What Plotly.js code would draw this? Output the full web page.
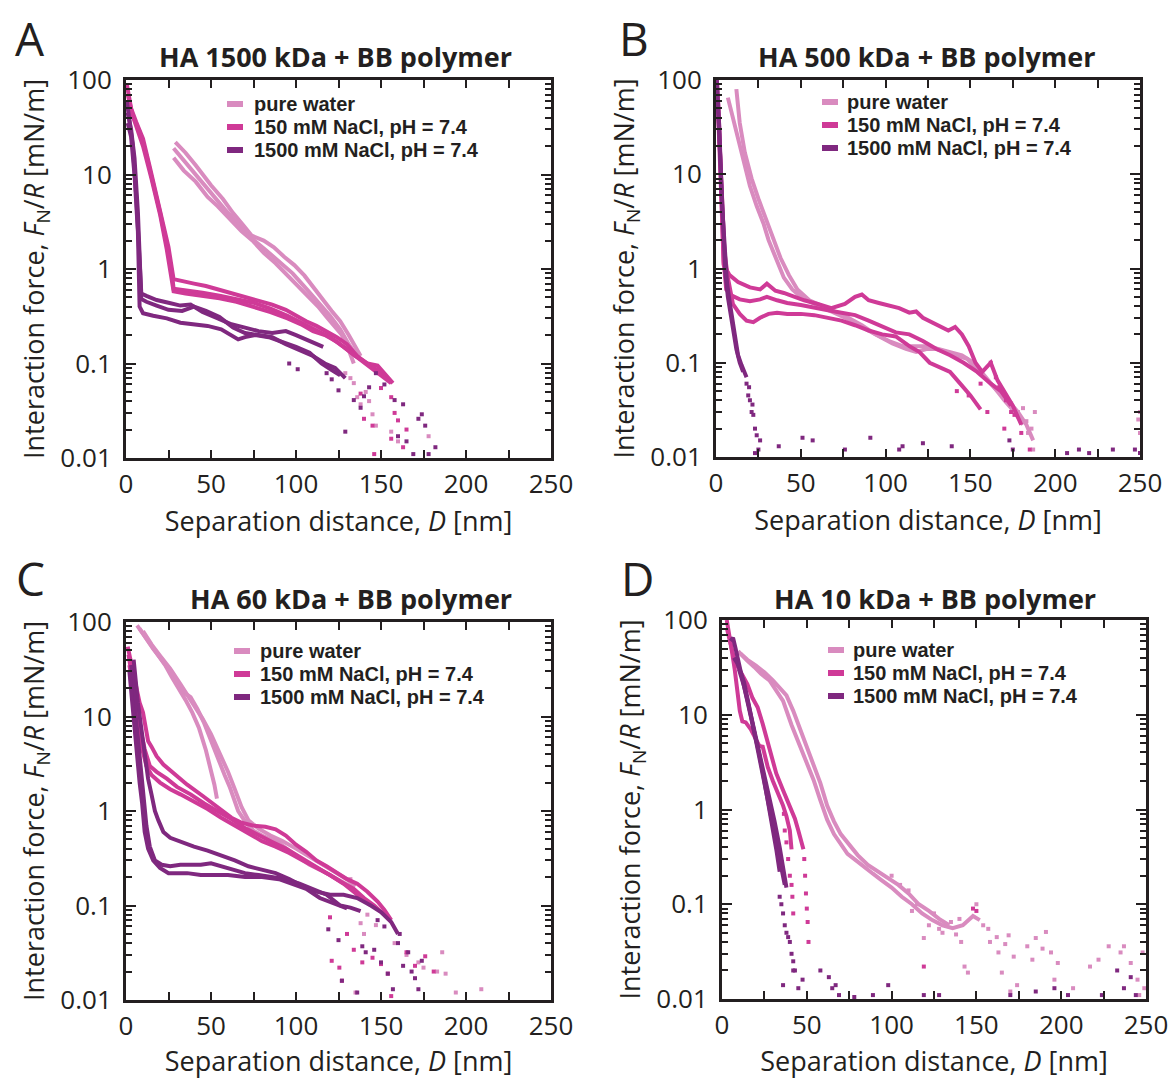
<!DOCTYPE html>
<html>
<head>
<meta charset="utf-8">
<script src="https://cdn.plot.ly/plotly-3.0.1.min.js"></script>
<style>html,body{margin:0;padding:0;background:#fff;}#chart{width:1171px;height:1079px;}</style>
</head>
<body>
<div id="chart"></div>
<script>
// ---------------- DATA (D in nm, F/R in mN/m) ----------------
const conditions = ["pure water", "150 mM NaCl, pH = 7.4", "1500 mM NaCl, pH = 7.4"];
const panelTitles = ["HA 1500 kDa + BB polymer", "HA 500 kDa + BB polymer", "HA 60 kDa + BB polymer", "HA 10 kDa + BB polymer"];
const panelLetters = ["A", "B", "C", "D"];
const xTickVals = [0, 50, 100, 150, 200, 250];
const yTickVals = [0.01, 0.1, 1, 10, 100];
const yTickText = ["0.01", "0.1", "1", "10", "100"];

// Panel A: HA 1500 kDa
const A_water_D = [
  [29, 35, 41, 50, 57, 63, 69, 74, 81, 87, 93, 99, 105, 110, 116, 121, 126, 131, 135, 138],
  [28, 35, 41, 50, 58, 66, 74, 82, 90, 98, 106, 113, 120, 126, 131, 136],
  [28, 34, 41, 48, 54, 61, 68, 75, 81, 88, 94, 101, 107, 113, 118, 123, 127, 131, 134]];
const A_water_F = [
  [22, 17, 12.5, 7.7, 5.5, 3.9, 2.9, 2.25, 2.0, 1.7, 1.35, 1.1, 0.85, 0.66, 0.47, 0.36, 0.28, 0.2, 0.15, 0.12],
  [19, 13.5, 10, 6.3, 4.3, 3.0, 2.1, 1.6, 1.2, 0.9, 0.62, 0.45, 0.32, 0.23, 0.16, 0.12],
  [15, 11, 8.4, 5.8, 4.6, 3.4, 2.5, 1.95, 1.48, 1.15, 0.89, 0.68, 0.51, 0.4, 0.31, 0.24, 0.2, 0.14, 0.10]];
const A_salt150_D = [
  [0.5, 3, 6, 10, 14, 18, 22, 25, 28, 33, 40, 47, 55, 62, 70, 78, 86, 94, 100, 106, 112, 118, 124, 130, 136, 142, 148, 153, 157],
  [1, 4, 8, 12, 16, 20, 24, 27, 28, 35, 45, 55, 65, 75, 85, 95, 105, 113, 120, 128, 135, 142, 148, 154],
  [1, 5, 10, 15, 20, 24, 28, 35, 45, 55, 65, 75, 85, 95, 103, 110, 117, 124, 130, 137, 143, 150, 156]];
const A_salt150_F = [
  [90, 50, 36, 24, 12, 6, 3, 1.7, 0.78, 0.74, 0.7, 0.66, 0.6, 0.55, 0.51, 0.46, 0.42, 0.37, 0.32, 0.28, 0.25, 0.22, 0.19, 0.16, 0.12, 0.1, 0.095, 0.075, 0.062],
  [70, 42, 28, 16, 8, 4, 1.8, 0.9, 0.62, 0.6, 0.56, 0.52, 0.48, 0.44, 0.38, 0.32, 0.26, 0.22, 0.19, 0.15, 0.12, 0.1, 0.085, 0.068],
  [60, 38, 20, 9, 3.8, 1.6, 0.58, 0.55, 0.52, 0.49, 0.45, 0.4, 0.35, 0.3, 0.26, 0.22, 0.2, 0.17, 0.14, 0.11, 0.093, 0.075, 0.062]];
const A_salt1500_D = [
  [0.5, 2, 4, 6, 8, 9, 12, 18, 25, 32, 38, 45, 54, 62, 70, 78, 86, 94, 100, 106, 112, 116],
  [1, 3, 5, 7, 9, 12, 18, 25, 33, 40, 47, 55, 63, 70, 78, 86, 94, 102, 110, 117, 123, 129],
  [1, 3, 5, 7, 8, 10, 16, 24, 32, 40, 48, 56, 62, 66, 70, 76, 84, 92, 100, 108, 115, 121, 126]];
const A_salt1500_F = [
  [60, 40, 20, 6, 1.5, 0.55, 0.52, 0.47, 0.44, 0.41, 0.42, 0.35, 0.3, 0.26, 0.24, 0.22, 0.21, 0.22, 0.2, 0.18, 0.16, 0.15],
  [45, 30, 15, 4, 0.48, 0.45, 0.41, 0.37, 0.36, 0.4, 0.36, 0.31, 0.24, 0.21, 0.2, 0.19, 0.16, 0.14, 0.12, 0.1, 0.09, 0.07],
  [35, 25, 10, 2.5, 0.4, 0.34, 0.32, 0.3, 0.27, 0.26, 0.25, 0.23, 0.2, 0.18, 0.19, 0.2, 0.19, 0.17, 0.15, 0.13, 0.1, 0.085, 0.075]];
const A_water_tailD = [129, 132, 134, 136, 138, 141, 145, 147, 156, 160, 178, 143];
const A_water_tailF = [0.079, 0.07, 0.062, 0.044, 0.037, 0.05, 0.029, 0.022, 0.019, 0.015, 0.017, 0.04];
const A_salt150_tailD = [138, 140, 145, 146, 156, 158, 160, 163, 156, 150, 165];
const A_salt150_tailF = [0.048, 0.026, 0.022, 0.011, 0.044, 0.03, 0.025, 0.013, 0.016, 0.055, 0.02];
const A_salt1500_tailD = [96, 101, 118, 121, 125, 129, 134, 138, 143, 147, 158, 160, 163, 165, 169, 172, 174, 176, 178, 182, 152, 140];
const A_salt1500_tailF = [0.10, 0.087, 0.079, 0.068, 0.052, 0.019, 0.041, 0.034, 0.056, 0.079, 0.041, 0.017, 0.037, 0.015, 0.011, 0.026, 0.029, 0.022, 0.011, 0.013, 0.06, 0.045];

// Panel B: HA 500 kDa
const B_water_D = [
  [7, 8, 10, 13, 17, 20, 24, 28, 31, 35, 40, 45, 50, 57, 64, 72, 80, 88, 96, 104, 112, 118, 124, 130, 136, 142, 148, 154, 160, 166, 172, 178, 183, 187],
  [12, 12.5, 14, 17, 21, 25, 29, 33, 38, 43, 48, 55, 62, 70, 78, 86, 94, 102, 110, 117, 124, 131, 138, 145, 152, 158, 164, 170, 176, 181]];
const B_water_F = [
  [65, 55, 40, 24, 12, 7.5, 4.6, 3.0, 2.0, 1.3, 0.8, 0.6, 0.5, 0.43, 0.38, 0.33, 0.28, 0.23, 0.19, 0.16, 0.14, 0.13, 0.14, 0.14, 0.13, 0.12, 0.11, 0.085, 0.065, 0.05, 0.04, 0.03, 0.022, 0.015],
  [80, 60, 35, 17, 9, 5.5, 3.5, 2.2, 1.3, 0.85, 0.6, 0.46, 0.4, 0.35, 0.3, 0.25, 0.2, 0.17, 0.15, 0.15, 0.15, 0.14, 0.13, 0.12, 0.1, 0.075, 0.055, 0.04, 0.03, 0.022]];
const B_salt150_D = [
  [0.5, 1.5, 3, 4.5, 8, 13, 20, 26, 30, 35, 40, 46, 52, 60, 68, 76, 82, 86, 90, 96, 102, 108, 114, 118, 122, 127, 132, 137, 141, 145, 149, 153, 157, 162, 166, 170, 175, 180],
  [1, 2.5, 4.5, 6, 9, 14, 20, 26, 30, 36, 42, 50, 58, 66, 74, 82, 90, 98, 106, 114, 122, 130, 138, 146, 154, 162, 168, 174],
  [1.5, 3, 5, 7, 10, 14, 18, 22, 26, 31, 36, 42, 50, 58, 66, 74, 82, 90, 98, 106, 114, 120, 126, 132, 138, 144, 150, 156]];
const B_salt150_F = [
  [100, 50, 8, 1.1, 0.85, 0.72, 0.63, 0.6, 0.69, 0.58, 0.55, 0.5, 0.46, 0.42, 0.38, 0.42, 0.5, 0.53, 0.46, 0.43, 0.4, 0.38, 0.34, 0.35, 0.3, 0.27, 0.24, 0.22, 0.24, 0.2, 0.15, 0.1, 0.08, 0.1, 0.065, 0.05, 0.035, 0.022],
  [60, 12, 1.2, 0.6, 0.52, 0.47, 0.45, 0.47, 0.5, 0.46, 0.43, 0.41, 0.38, 0.36, 0.34, 0.32, 0.28, 0.24, 0.21, 0.2, 0.17, 0.14, 0.12, 0.1, 0.08, 0.06, 0.05, 0.035],
  [40, 8, 1.5, 0.8, 0.42, 0.33, 0.28, 0.27, 0.3, 0.33, 0.34, 0.33, 0.33, 0.32, 0.3, 0.28, 0.25, 0.22, 0.2, 0.19, 0.15, 0.13, 0.1, 0.09, 0.08, 0.06, 0.045, 0.032]];
const B_salt1500_D = [
  [0.5, 2, 3.5, 5, 6.5, 8, 9.5, 11, 13, 15, 17, 18],
  [1, 2.5, 4, 5.5, 7, 8.5, 10, 12, 14, 16]];
const B_salt1500_F = [
  [100, 30, 5, 1.5, 0.7, 0.45, 0.3, 0.18, 0.12, 0.095, 0.08, 0.07],
  [60, 15, 3, 0.9, 0.5, 0.33, 0.22, 0.14, 0.1, 0.08]];
const B_water_tailD = [174, 178, 181, 183, 184, 186, 187, 188, 250, 250, 249];
const B_water_tailF = [0.037, 0.03, 0.033, 0.024, 0.018, 0.02, 0.012, 0.03, 0.018, 0.03, 0.025];
const B_salt150_tailD = [142, 149, 156, 162, 165, 167, 171, 174, 176, 180, 185, 160, 170];
const B_salt150_tailF = [0.05, 0.045, 0.06, 0.1, 0.07, 0.055, 0.04, 0.03, 0.028, 0.018, 0.012, 0.03, 0.02];
const B_salt1500_tailD = [18, 19, 20, 21, 22, 23, 24, 25, 26, 23, 37, 51, 57, 76, 91, 108, 110, 122, 139, 173, 175, 207, 214, 220, 234, 247, 250, 19.5, 21.5];
const B_salt1500_tailF = [0.06, 0.045, 0.04, 0.03, 0.028, 0.02, 0.017, 0.012, 0.015, 0.011, 0.013, 0.016, 0.015, 0.012, 0.016, 0.012, 0.013, 0.014, 0.013, 0.015, 0.012, 0.011, 0.012, 0.011, 0.012, 0.012, 0.011, 0.055, 0.036];

// Panel C: HA 60 kDa
const C_water_D = [
  [6.5, 10, 14, 18, 23, 27, 31, 35, 39, 43, 47, 50, 52, 53.5],
  [8, 12, 16, 20, 25, 30, 34, 38, 42, 46, 50, 54, 58, 61, 63, 66, 70, 75, 80, 85, 90, 96, 102, 108, 114, 120, 126, 132, 136],
  [10, 15, 20, 26, 32, 36, 40, 45, 50, 55, 60, 64, 68, 72, 78, 85, 92, 100, 108, 116, 124, 130, 135]];
const C_water_F = [
  [92, 75, 60, 47, 35, 26, 20, 15, 11, 7.5, 4.4, 2.8, 1.9, 1.35],
  [85, 65, 52, 42, 32, 22, 18, 16, 12, 8.5, 5.5, 3.8, 2.4, 1.8, 1.4, 1.0, 0.78, 0.62, 0.55, 0.5, 0.46, 0.38, 0.32, 0.27, 0.24, 0.21, 0.18, 0.16, 0.13],
  [80, 58, 44, 32, 22, 17, 13.5, 9.5, 6.5, 4.2, 2.6, 1.7, 1.1, 0.8, 0.65, 0.55, 0.48, 0.4, 0.33, 0.27, 0.22, 0.19, 0.16]];
const C_salt150_D = [
  [1, 2.5, 5, 8, 10, 11.5, 13, 15, 18, 22, 28, 36, 45, 55, 62, 68, 75, 82, 88, 94, 100, 106, 112, 118, 124, 130, 136, 142, 148, 152, 156],
  [1.5, 3, 5, 8, 11, 14, 18, 24, 30, 38, 46, 54, 62, 70, 78, 86, 94, 102, 110, 118, 126, 134, 140, 146, 152],
  [2, 4, 6, 9, 12, 15, 20, 26, 32, 40, 48, 56, 64, 72, 80, 88, 96, 104, 112, 120, 128, 136, 144]];
const C_salt150_F = [
  [55, 40, 24, 14, 11, 7.5, 5.5, 4.8, 3.8, 3.1, 2.5, 1.9, 1.45, 1.05, 0.85, 0.75, 0.7, 0.68, 0.64, 0.55, 0.44, 0.37, 0.3, 0.26, 0.22, 0.19, 0.17, 0.14, 0.11, 0.09, 0.07],
  [45, 30, 18, 8, 4.5, 3.0, 2.6, 2.2, 1.8, 1.5, 1.2, 1.0, 0.82, 0.66, 0.55, 0.47, 0.4, 0.33, 0.27, 0.22, 0.18, 0.15, 0.12, 0.1, 0.08],
  [35, 22, 10, 5, 3.0, 2.4, 2.0, 1.7, 1.5, 1.25, 1.05, 0.85, 0.7, 0.57, 0.48, 0.42, 0.36, 0.3, 0.25, 0.21, 0.17, 0.13, 0.1]];
const C_salt1500_D = [
  [4.5, 5.5, 7, 9, 11, 13, 15, 17, 19, 22, 26, 32, 40, 48, 56, 64, 72, 80, 88, 96, 104, 112, 120, 128, 136, 144, 150, 156, 160],
  [3, 4.5, 6, 7.5, 9, 10.5, 12, 14, 17, 21, 26, 32, 38, 44, 50, 56, 62, 70, 78, 86, 94, 102, 110, 118, 126, 132, 138],
  [2, 3.5, 5, 6.5, 8, 9.5, 11, 13, 16, 20, 25, 30, 36, 44, 52, 60, 70, 80, 90, 98, 106, 114, 122, 130]];
const C_salt1500_F = [
  [40, 25, 14, 7.5, 4.0, 2.2, 1.5, 1.0, 0.8, 0.6, 0.52, 0.47, 0.42, 0.38, 0.34, 0.3, 0.26, 0.24, 0.22, 0.19, 0.16, 0.14, 0.13, 0.13, 0.12, 0.1, 0.085, 0.067, 0.05],
  [35, 20, 9, 4.6, 2.2, 1.2, 0.7, 0.42, 0.3, 0.27, 0.26, 0.27, 0.27, 0.27, 0.28, 0.26, 0.24, 0.22, 0.21, 0.2, 0.19, 0.17, 0.15, 0.13, 0.1, 0.095, 0.087],
  [30, 15, 7, 3.5, 2.0, 1.2, 0.6, 0.4, 0.3, 0.25, 0.22, 0.22, 0.22, 0.21, 0.21, 0.21, 0.2, 0.2, 0.19, 0.17, 0.15, 0.12, 0.105, 0.093]];
const C_water_tailD = [132, 138, 140, 147, 152, 158, 165, 172, 175, 183, 186, 188, 194, 209, 135, 142];
const C_water_tailF = [0.19, 0.065, 0.05, 0.062, 0.085, 0.04, 0.03, 0.025, 0.022, 0.02, 0.032, 0.019, 0.012, 0.013, 0.012, 0.08];
const C_salt150_tailD = [121, 125.5, 127, 134, 139, 145, 150, 154, 156, 165, 170, 176, 181, 120, 130];
const C_salt150_tailF = [0.026, 0.022, 0.016, 0.034, 0.025, 0.028, 0.024, 0.019, 0.011, 0.032, 0.023, 0.029, 0.02, 0.075, 0.05];
const C_salt1500_tailD = [119, 125, 127, 136, 139, 141, 146, 150, 154, 157, 161, 166, 168, 170, 172, 174, 160, 148, 152, 163];
const C_salt1500_tailF = [0.056, 0.043, 0.016, 0.012, 0.037, 0.032, 0.034, 0.025, 0.019, 0.013, 0.05, 0.032, 0.02, 0.017, 0.013, 0.026, 0.04, 0.07, 0.06, 0.023];

// Panel D: HA 10 kDa
const D_water_D = [
  [9.5, 12, 15, 19, 23, 28, 32, 36, 41, 45, 49, 54, 58, 62, 66, 70, 74, 79, 84, 89, 94, 100, 106, 112, 118, 124, 130, 136, 142, 148, 152],
  [11, 15, 20, 25, 30, 34, 38, 42, 46, 50, 54, 58, 62, 66, 70, 75, 80, 86, 92, 98, 104, 110, 116, 122, 128, 134]];
const D_water_F = [
  [47, 42, 37, 32, 27, 23, 18, 14, 7.8, 5.2, 3.6, 2.05, 1.25, 0.78, 0.55, 0.43, 0.34, 0.29, 0.25, 0.21, 0.18, 0.15, 0.12, 0.1, 0.08, 0.068, 0.06, 0.056, 0.06, 0.075, 0.068],
  [44, 38, 33, 28, 23, 19, 16, 11, 7, 4.6, 3.0, 1.9, 1.1, 0.75, 0.55, 0.42, 0.33, 0.26, 0.22, 0.19, 0.16, 0.13, 0.1, 0.085, 0.07, 0.06]];
const D_salt150_D = [
  [2.8, 4.5, 6, 7.5, 9, 10.5, 12, 14, 17, 20, 22, 24, 27, 30, 33, 36, 38, 40, 41],
  [3, 5, 7, 9, 12, 15, 18, 21, 24, 28, 32, 36, 40, 43, 45, 47, 48]];
const D_salt150_F = [
  [100, 70, 45, 30, 18, 11, 8.5, 8.3, 7.0, 5.5, 4.7, 4.6, 2.8, 2.0, 1.5, 1.1, 0.85, 0.6, 0.38],
  [80, 55, 40, 33, 26, 21, 15, 12, 8, 4.2, 2.4, 1.6, 1.1, 0.8, 0.6, 0.45, 0.38]];
const D_salt1500_D = [
  [5, 6.5, 8, 10, 12, 14, 16, 18, 20, 22, 24, 26, 28, 30, 32, 34],
  [7, 9, 11, 13, 15, 17, 19, 21, 23, 25, 27, 29, 31, 33, 35, 37],
  [10, 13, 16, 19, 22, 25, 28, 31, 34, 36, 38]];
const D_salt1500_F = [
  [60, 65, 50, 35, 24, 17, 12, 8, 5.5, 3.8, 2.5, 1.6, 1.0, 0.6, 0.38, 0.22],
  [40, 35, 28, 22, 15, 10, 6.6, 4.5, 3.0, 2.0, 1.35, 0.9, 0.6, 0.4, 0.25, 0.16],
  [30, 20, 12, 7, 4, 2.3, 1.3, 0.75, 0.4, 0.25, 0.15]];
const D_water_tailD = [100, 105, 110, 115, 119, 125, 130, 135, 141, 143, 145, 150, 154, 157, 158, 162, 163, 165, 167, 169, 172, 174, 180, 183, 185, 189, 191, 194, 196, 198, 207, 217, 222, 228, 235, 237, 241, 245, 248, 249, 246, 140, 170, 112, 122, 128, 138];
const D_water_tailF = [0.2, 0.16, 0.14, 0.1, 0.044, 0.08, 0.05, 0.065, 0.04, 0.022, 0.019, 0.1, 0.06, 0.055, 0.04, 0.045, 0.031, 0.019, 0.038, 0.047, 0.028, 0.014, 0.036, 0.026, 0.044, 0.034, 0.051, 0.031, 0.016, 0.024, 0.013, 0.022, 0.026, 0.036, 0.031, 0.036, 0.024, 0.016, 0.031, 0.013, 0.011, 0.07, 0.012, 0.085, 0.06, 0.055, 0.048];
const D_salt150_tailD = [36.5, 37, 38, 39, 40, 41, 41.5, 42, 48.5, 49, 49.5, 50, 50.5, 51, 119, 150, 148];
const D_salt150_tailF = [0.9, 0.6, 0.45, 0.3, 0.2, 0.16, 0.12, 0.08, 0.3, 0.2, 0.13, 0.09, 0.065, 0.04, 0.022, 0.085, 0.09];
const D_salt1500_tailD = [34, 35, 36, 37, 38, 39, 40, 41, 42, 43, 36, 42, 45, 47.5, 58, 63, 67, 69, 78, 89, 98, 119, 128, 170, 185, 196, 204, 224, 233, 237, 241, 244, 65];
const D_salt1500_tailF = [0.12, 0.1, 0.08, 0.06, 0.05, 0.045, 0.04, 0.03, 0.025, 0.02, 0.014, 0.02, 0.013, 0.016, 0.02, 0.017, 0.014, 0.011, 0.0105, 0.011, 0.014, 0.011, 0.011, 0.011, 0.012, 0.013, 0.011, 0.011, 0.02, 0.013, 0.017, 0.011, 0.013];

// ---------------- STYLE / LAYOUT ----------------
const COLORS = ["#d98bbf", "#cf3a97", "#7f287f"];
const INK = "#231f20";
const FONT = "Open Sans";
const LEGEND_FONT = "Liberation Sans";
const W = 1171, H = 1079;
const fx = v => v / W, fy = v => 1 - v / H;

const panelData = [
  {runsD: [A_water_D, A_salt150_D, A_salt1500_D], runsF: [A_water_F, A_salt150_F, A_salt1500_F],
   tailD: [A_water_tailD, A_salt150_tailD, A_salt1500_tailD], tailF: [A_water_tailF, A_salt150_tailF, A_salt1500_tailF]},
  {runsD: [B_water_D, B_salt150_D, B_salt1500_D], runsF: [B_water_F, B_salt150_F, B_salt1500_F],
   tailD: [B_water_tailD, B_salt150_tailD, B_salt1500_tailD], tailF: [B_water_tailF, B_salt150_tailF, B_salt1500_tailF]},
  {runsD: [C_water_D, C_salt150_D, C_salt1500_D], runsF: [C_water_F, C_salt150_F, C_salt1500_F],
   tailD: [C_water_tailD, C_salt150_tailD, C_salt1500_tailD], tailF: [C_water_tailF, C_salt150_tailF, C_salt1500_tailF]},
  {runsD: [D_water_D, D_salt150_D, D_salt1500_D], runsF: [D_water_F, D_salt150_F, D_salt1500_F],
   tailD: [D_water_tailD, D_salt150_tailD, D_salt1500_tailD], tailF: [D_water_tailF, D_salt150_tailF, D_salt1500_tailF]}
];

// pixel geometry of each panel
const geom = [
  {x: [126, 551], y: [80, 458], titleX: 514, titleY: 57, letter: [30, 38], barX: 235, textX: 252, rows: [104, 127, 150]},
  {x: [716, 1140], y: [80, 457], titleX: 1098, titleY: 57, letter: [634, 38], barX: 830, textX: 845, rows: [102, 125, 148]},
  {x: [126, 551], y: [622, 1000], titleX: 514, titleY: 598, letter: [30, 578], barX: 242, textX: 258, rows: [651, 674, 697]},
  {x: [722, 1146], y: [620, 999], titleX: 1098, titleY: 598, letter: [637, 578], barX: 836, textX: 851, rows: [650, 673, 696]}
];

const traces = [];
const layout = {
  width: W, height: H, margin: {l: 0, r: 0, t: 0, b: 0},
  paper_bgcolor: "#fff", plot_bgcolor: "#fff", showlegend: false,
  font: {family: FONT, color: INK},
  annotations: [], shapes: []
};

const yMinor = [];
[0.01, 0.1, 1, 10].forEach(d => { for (let k = 2; k <= 9; k++) yMinor.push(+(d * k).toPrecision(3)); });

geom.forEach((g, p) => {
  const s = p === 0 ? "" : String(p + 1);
  const xa = "x" + s, ya = "y" + s;
  layout["xaxis" + s] = {
    domain: [fx(g.x[0]), fx(g.x[1])], anchor: ya, range: [0, 250],
    tickvals: xTickVals, ticks: "inside", ticklen: 8, tickwidth: 2, tickcolor: INK,
    minor: {tickvals: [25, 75, 125, 175, 225], ticks: "inside", ticklen: 8, tickwidth: 2, tickcolor: INK},
    showline: true, linewidth: 3, linecolor: INK, mirror: "ticks",
    showgrid: false, zeroline: false, automargin: false, ticklabelstandoff: 1,
    tickfont: {family: FONT, size: 26, color: INK},
    title: {text: "Separation distance, <i>D</i> [nm]", font: {family: FONT, size: 27, color: INK}, standoff: 12}
  };
  layout["yaxis" + s] = {
    domain: [fy(g.y[1]), fy(g.y[0])], anchor: xa, type: "log", range: [-2, 2],
    tickvals: yTickVals, ticktext: yTickText, ticks: "inside", ticklen: 10, tickwidth: 2, tickcolor: INK,
    minor: {tickvals: yMinor, ticks: "inside", ticklen: 6, tickwidth: 2, tickcolor: INK},
    showline: true, linewidth: 3, linecolor: INK, mirror: "ticks",
    showgrid: false, zeroline: false, automargin: false, ticklabelstandoff: 6,
    tickfont: {family: FONT, size: 26, color: INK},
    title: {text: "Interaction force, <i>F</i><sub>N</sub>/<i>R</i> [mN/m]", font: {family: FONT, size: 27, color: INK}, standoff: 8}
  };

  const pd = panelData[p];
  for (let c = 0; c < 3; c++) {
    pd.runsD[c].forEach((dArr, r) => {
      traces.push({
        type: "scatter", mode: "lines", x: dArr, y: pd.runsF[c][r], xaxis: xa, yaxis: ya,
        name: conditions[c], showlegend: false,
        line: {color: COLORS[c], width: 4}, hoverinfo: "x+y+name"
      });
    });
    traces.push({
      type: "scatter", mode: "markers", x: pd.tailD[c], y: pd.tailF[c], xaxis: xa, yaxis: ya,
      name: conditions[c], showlegend: false,
      marker: {color: COLORS[c], size: 4, symbol: "square"}, cliponaxis: true
    });
  }

  // panel title and letter
  layout.annotations.push({
    text: "<b>" + panelTitles[p] + "</b>", xref: "paper", yref: "paper",
    x: fx(g.titleX), y: fy(g.titleY), xanchor: "right", yanchor: "middle", showarrow: false,
    font: {family: FONT, size: 27, color: INK}
  });
  layout.annotations.push({
    text: panelLetters[p], xref: "paper", yref: "paper",
    x: fx(g.letter[0]), y: fy(g.letter[1]), xanchor: "center", yanchor: "middle", showarrow: false,
    font: {family: FONT, size: 46, color: INK}
  });
  // legend (colored bars + bold labels)
  conditions.forEach((name, c) => {
    layout.shapes.push({
      type: "line", xref: "paper", yref: "paper",
      x0: fx(g.barX - 8), x1: fx(g.barX + 8), y0: fy(g.rows[c]), y1: fy(g.rows[c]),
      line: {color: COLORS[c], width: 6}
    });
    layout.annotations.push({
      text: "<b>" + name + "</b>", xref: "paper", yref: "paper",
      x: fx(g.textX), y: fy(g.rows[c]), xanchor: "left", yanchor: "middle", showarrow: false,
      font: {family: LEGEND_FONT, size: 20, color: INK}
    });
  });
});

Plotly.newPlot("chart", traces, layout, {staticPlot: true, displayModeBar: false});
</script>
</body>
</html>
